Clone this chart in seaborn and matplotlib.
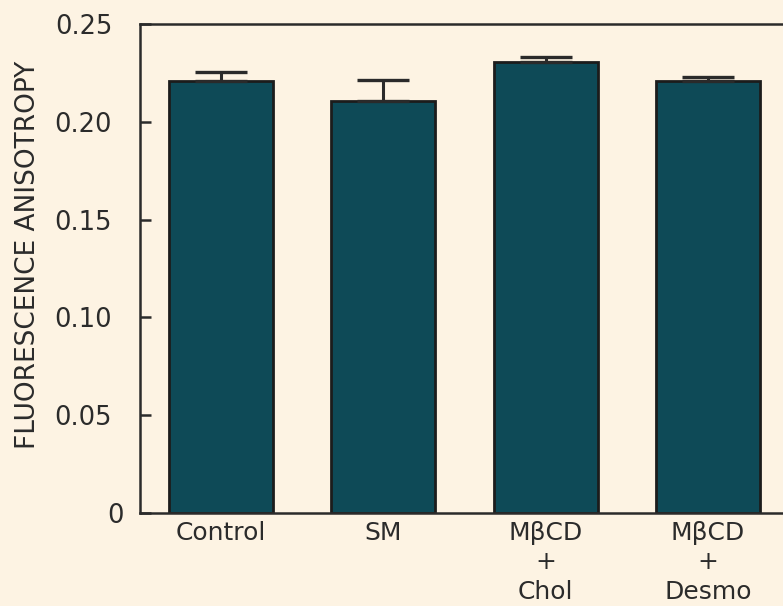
import pandas as pd
import seaborn as sns
import matplotlib
matplotlib.use('Agg')
import matplotlib.pyplot as plt
from matplotlib.transforms import ScaledTranslation

# values
groups = ['Control', 'SM', 'MβCD\n+\nChol', 'MβCD\n+\nDesmo']
anisotropy = [0.221, 0.2105, 0.2305, 0.221]
sem = [0.0045, 0.011, 0.0027, 0.002]
yticks = [0, 0.05, 0.10, 0.15, 0.20, 0.25]
ytick_labels = ['0', '0.05', '0.10', '0.15', '0.20', '0.25']

bg = '#fdf3e3'
bar_col = '#0e4a57'
ink = '#2b2b2b'

sns.set_style('ticks')
plt.rcParams['font.family'] = ['DejaVu Sans']

df = pd.DataFrame({'group': groups, 'value': anisotropy})

fig = plt.figure(figsize=(7.83, 6.06), dpi=100, facecolor=bg)
ax = fig.add_axes([140 / 783, 93 / 606, 649 / 783, 489 / 606])
ax.set_facecolor(bg)

sns.barplot(data=df, x='group', y='value', color=bar_col, width=0.64,
            errorbar=None, edgecolor='#1c1c1c', linewidth=2.0,
            saturation=1, ax=ax)
ax.errorbar(range(len(groups)), anisotropy, yerr=[[0] * len(sem), sem],
            fmt='none', ecolor='#2a2a2a', elinewidth=2.2, capsize=19,
            capthick=2.4, zorder=1)

ax.set_xlim(-0.5, 3.5)
ax.set_ylim(0, 0.25)
ax.set_yticks(yticks)
ax.set_yticklabels(ytick_labels)
ax.set_xlabel('')
ax.set_ylabel('FLUORESCENCE ANISOTROPY', fontsize=19, color=ink)
ax.yaxis.set_label_coords(-0.153, 0.528)

ax.tick_params(axis='y', direction='in', length=8, width=1.8, pad=20,
               labelsize=18.5, labelcolor=ink, color=ink)
ax.tick_params(axis='x', length=0, pad=5.5, labelsize=18, labelcolor=ink)
for lab in ax.get_xticklabels():
    lab.set_linespacing(1.3)
    lab.set_verticalalignment('top')

# the zero label sits a little to the right in the original
zero = ax.get_yticklabels()[0]
zero.set_transform(zero.get_transform() + ScaledTranslation(8 / 72, 0, fig.dpi_scale_trans))

for side in ['left', 'top', 'bottom', 'right']:
    ax.spines[side].set_color(ink)
    ax.spines[side].set_linewidth(1.8)

fig.savefig('out.png', dpi=100, facecolor=bg)
